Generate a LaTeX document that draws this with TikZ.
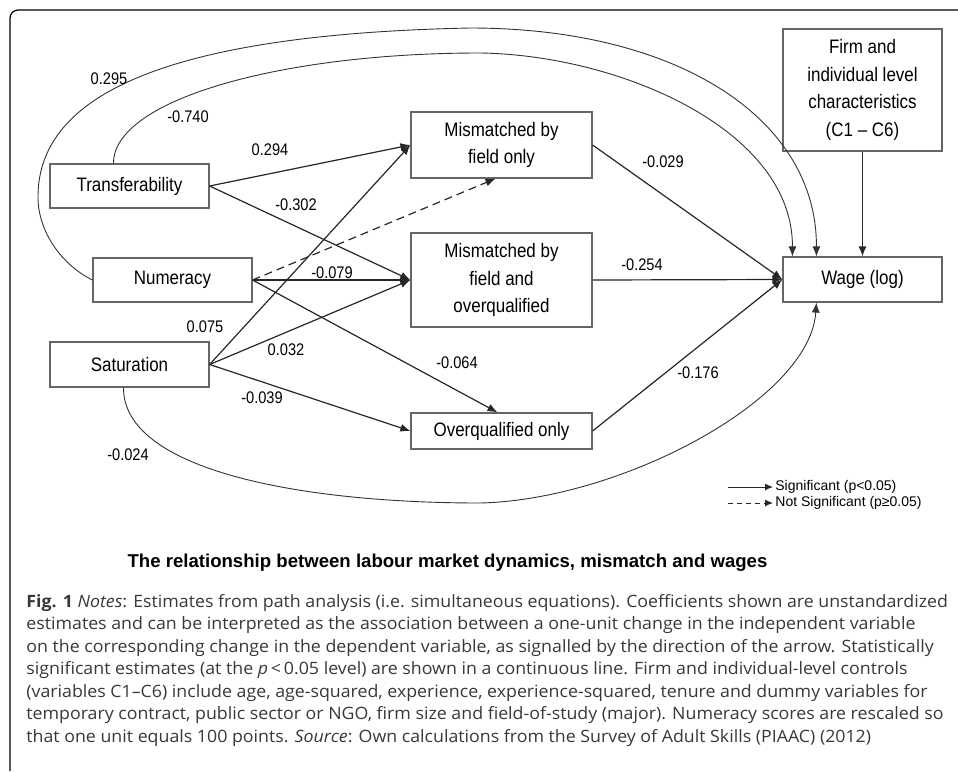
\documentclass[tikz,border=0pt]{standalone}
\usepackage{fontspec}
\setmainfont{Open Sans}[FakeStretch=1.045]
\newfontfamily\dfont[FakeStretch=0.87]{Liberation Sans}
\newfontfamily\tfont{Liberation Sans}
\usetikzlibrary{arrows.meta}
\definecolor{boxgray}{gray}{0.4}
\definecolor{capgray}{gray}{0.22}
\tikzset{
	var/.style={draw=boxgray,line width=0.6pt,align=center,inner sep=1pt,
		font=\dfont\fontsize{9.75}{13.75}\selectfont},
	coef/.style={inner sep=1pt,font=\dfont\fontsize{8.4}{10}\selectfont},
	pathline/.style={->,line width=0.6pt,color=black!85},
	pathcurve/.style={->,line width=0.45pt,color=black!80},
	nonsig/.style={dash pattern=on 4pt off 2.5pt},
	legtext/.style={anchor=west,inner sep=1pt,font=\tfont\fontsize{7}{8}\selectfont}
}

\begin{document}
\begin{tikzpicture}[x=0.5pt,y=-0.5pt,>={Latex[length=5pt,width=4pt]}]
	\useasboundingbox (0,0) rectangle (958,771);
	\draw[line width=0.6pt,rounded corners=4pt] (10,771) -- (10,10) -- (958,10);

	% variables
	\node(t)[var,minimum width=79.5pt,minimum height=22pt] at (129.5,186){Transferability};
	\node(n)[var,minimum width=79.5pt,minimum height=22pt] at (172.5,280){Numeracy};
	\node(s)[var,minimum width=79.5pt,minimum height=22.5pt] at (129.5,364.5){Saturation};
	\node(mfo)[var,minimum width=90.5pt,minimum height=33pt] at (501.5,145){Mismatched by\\field only};
	\node(mfao)[var,minimum width=90.5pt,minimum height=47pt] at (501.5,280){Mismatched by\\field and\\overqualified};
	\node(oq)[var,minimum width=90.5pt,minimum height=18pt] at (501.5,431){Overqualified only};
	\node(firm)[var,minimum width=79.5pt,minimum height=61pt] at (862.5,90){Firm and\\individual level\\characteristics\\(C1 – C6)};
	\node(w)[var,minimum width=79.5pt,minimum height=22.5pt] at (862.5,279.5){Wage (log)};

	\path[pathline] (t.east) edge (mfo.west)
	                (t.east) edge (mfao.west)
	                (n.east) edge (mfao.west)
	                (n.east) edge ([xshift=-2pt]oq.north)
	                (s.east) edge (mfo.west)
	                (s.east) edge (mfao.west)
	                (s.east) edge (oq.west)
	                (mfo.east) edge (w.west)
	                (mfao.east) edge (w.west)
	                (oq.east) edge (w.west)
	                (firm.south) edge (w.north);
	\path[pathline,nonsig] (n.east) edge ([xshift=-3pt]mfo.south);

	% direct paths to wage
	\draw[pathcurve] (n.west) .. controls (62,265) and (38,232) .. (38,197)
		.. controls (38,110) and (130,35) .. (470,28)
		.. controls (680,28) and (817,120) .. ([xshift=17pt]w.north west);
	\draw[pathcurve] ([xshift=-8pt]t.north) .. controls (113,100) and (280,53) .. (480,53)
		.. controls (620,55) and (793,130) .. ([xshift=5pt]w.north west);
	\draw[pathcurve] ([xshift=-3pt]s.south) .. controls (123,470) and (300,503) .. (480,503)
		.. controls (620,500) and (810,400) .. ([xshift=17pt]w.south west);

	% coefficients
	\node(c295)[coef] at (109,79){0.295};
	\node(c740)[coef] at (188,117){-0.740};
	\node(c294)[coef] at (270,150){0.294};
	\node(c302)[coef] at (296,205){-0.302};
	\node(c079)[coef] at (332,273){-0.079};
	\node(c075)[coef] at (205,327){0.075};
	\node(c032)[coef] at (286,350){0.032};
	\node(c039)[coef] at (262,398){-0.039};
	\node(c064)[coef] at (457,363){-0.064};
	\node(c024)[coef] at (128,455){-0.024};
	\node(c029)[coef] at (663,162){-0.029};
	\node(c254)[coef] at (642,265){-0.254};
	\node(c176)[coef] at (698,373){-0.176};

	% legend
	\node(sig)[legtext] at (773,487){Significant (p<0.05)};
	\node(nsig)[legtext] at (773,503){Not Significant (p≥0.05)};
	\coordinate(sig0) at (728,487);
	\coordinate(nsig0) at (728,503);
	\draw[pathline,line width=0.5pt,>={Latex[length=4pt,width=3.5pt]}] (sig0) -- (sig.west);
	\draw[pathline,line width=0.5pt,dash pattern=on 2.5pt off 2pt,>={Latex[length=4pt,width=3.5pt]}] (nsig0) -- (nsig.west);

	\node(title)[anchor=base,font=\tfont\bfseries\fontsize{9.3}{11}\selectfont] at (447.5,567){The relationship between labour market dynamics, mismatch and wages};
	\node(caption)[anchor=north west,align=left,inner sep=0pt,text=capgray,font=\fontsize{8.5}{11.25}\selectfont] at (26,594){%
		\textbf{Fig. 1} \textit{Notes}: Estimates from path analysis (i.e. simultaneous equations). Coefficients shown are unstandardized\\
		estimates and can be interpreted as the association between a one-unit change in the independent variable\\
		on the corresponding change in the dependent variable, as signalled by the direction of the arrow. Statistically\\
		significant estimates (at the \textit{p}\,<\,0.05 level) are shown in a continuous line. Firm and individual-level controls\\
		(variables C1--C6) include age, age-squared, experience, experience-squared, tenure and dummy variables for\\
		temporary contract, public sector or NGO, firm size and field-of-study (major). Numeracy scores are rescaled so\\
		that one unit equals 100 points. \textit{Source}: Own calculations from the Survey of Adult Skills (PIAAC) (2012)};
\end{tikzpicture}
\end{document}
